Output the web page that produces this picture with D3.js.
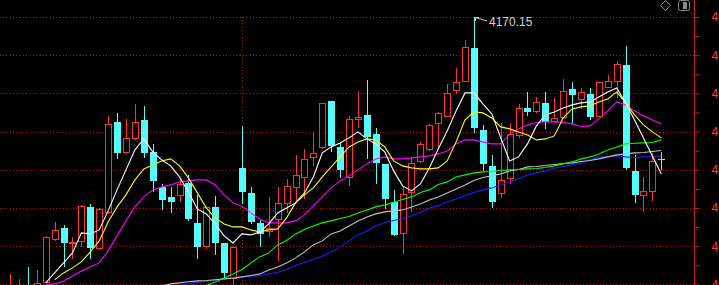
<!DOCTYPE html>
<html>
<head>
<meta charset="utf-8">
<script src="https://cdn.jsdelivr.net/npm/d3@7"></script>
<style>
html, body { margin: 0; padding: 0; background: #000; overflow: hidden; }
svg { display: block; }
</style>
</head>
<body>
<div id="chart"></div>
<script>
// daily candles, oldest first
var opens = [
    4028.7, 4028.7, 4035.2, 4031.2, 4037.8, 4059.3, 4064.7, 4057.0, 4058.3, 4075.2,
    4054.5, 4072.7, 4117.7, 4102.5, 4109.5, 4118.7, 4102.7, 4085.2, 4080.2, 4081.0,
    4087.2, 4067.2, 4055.8, 4075.2, 4057.2, 4039.5, 4094.7, 4082.2, 4067.0, 4063.2,
    4068.9, 4077.3, 4085.0, 4090.3, 4100.0, 4105.0, 4128.2, 4105.3, 4090.3, 4119.2,
    4121.2, 4111.7, 4096.7, 4077.5, 4062.0, 4082.8, 4098.3, 4104.0, 4117.0, 4120.8,
    4133.7, 4138.4, 4154.5, 4113.5, 4095.7, 4081.9, 4089.4, 4111.2, 4124.5, 4123.3,
    4127.3, 4118.3, 4120.3, 4134.0, 4129.2, 4131.7, 4120.8, 4135.3, 4138.3, 4146.2,
    4093.2, 4081.3, 4083.3, 4099.2
];
var highs = [
    4041.8, 4039.2, 4045.3, 4043.7, 4060.8, 4067.7, 4066.2, 4060.3, 4076.2, 4076.7,
    4074.4, 4120.7, 4122.2, 4119.0, 4126.5, 4125.8, 4106.7, 4086.5, 4085.0, 4089.0,
    4091.0, 4081.0, 4075.2, 4080.7, 4057.3, 4055.3, 4115.7, 4085.2, 4068.7, 4080.2,
    4085.0, 4089.0, 4101.2, 4104.0, 4112.5, 4127.2, 4128.3, 4107.3, 4120.8, 4133.3,
    4138.7, 4114.7, 4096.8, 4083.7, 4085.3, 4099.5, 4107.8, 4116.7, 4122.8, 4136.7,
    4144.5, 4158.7, 4170.15, 4116.2, 4101.2, 4117.2, 4117.0, 4126.7, 4132.8, 4130.3,
    4132.8, 4129.5, 4139.2, 4137.8, 4134.5, 4134.5, 4137.7, 4141.2, 4148.2, 4155.7,
    4101.2, 4090.3, 4102.0, 4102.7
];
var lows = [
    4026.7, 4026.2, 4027.7, 4029.7, 4037.5, 4058.8, 4045.8, 4049.8, 4055.7, 4049.5,
    4054.3, 4072.2, 4099.8, 4102.3, 4109.3, 4100.3, 4083.2, 4074.0, 4072.5, 4078.3,
    4068.7, 4049.5, 4054.5, 4051.7, 4040.3, 4036.2, 4077.3, 4067.0, 4055.7, 4060.7,
    4048.4, 4072.8, 4077.5, 4079.5, 4096.2, 4104.8, 4103.3, 4090.3, 4086.2, 4115.3,
    4099.8, 4087.0, 4074.5, 4061.1, 4052.3, 4073.3, 4097.8, 4103.9, 4105.3, 4120.6,
    4132.0, 4138.2, 4112.5, 4093.7, 4075.3, 4080.3, 4087.0, 4110.3, 4121.2, 4122.8,
    4114.5, 4118.2, 4120.1, 4117.0, 4124.5, 4119.0, 4120.6, 4135.1, 4130.3, 4094.3,
    4077.8, 4073.3, 4078.7, 4094.0
];
var closes = [
    4034.7, 4033.7, 4029.7, 4037.0, 4060.2, 4063.7, 4057.3, 4057.8, 4075.5, 4054.8,
    4074.2, 4116.5, 4102.3, 4109.5, 4117.5, 4102.0, 4088.3, 4078.8, 4077.7, 4086.7,
    4069.3, 4055.3, 4075.0, 4057.3, 4042.3, 4055.2, 4082.4, 4067.8, 4061.7, 4064.7,
    4077.0, 4085.8, 4091.3, 4099.2, 4102.0, 4127.0, 4105.8, 4093.7, 4119.2, 4120.2,
    4110.3, 4097.3, 4079.3, 4061.3, 4081.5, 4097.0, 4106.5, 4116.0, 4122.0, 4132.0,
    4137.8, 4155.0, 4114.5, 4096.8, 4077.7, 4088.7, 4111.5, 4124.5, 4122.8, 4127.5,
    4117.8, 4119.5, 4133.2, 4131.2, 4132.5, 4120.3, 4137.5, 4138.2, 4146.5, 4094.8,
    4081.3, 4083.0, 4098.2, 4098.7
];

// moving averages, each starting at the candle index given in its *Start
var ma5Start = 4;
var ma5 = [
    4037.2, 4042.2, 4047.2, 4052.2, 4062.2, 4061.7, 4063.7, 4073.2, 4083.7, 4093.7,
    4103.7, 4109.2, 4102.7, 4098.7, 4095.7, 4090.2, 4082.7, 4074.2, 4071.7, 4066.7,
    4060.7, 4057.2, 4061.7, 4061.2, 4062.7, 4066.7, 4072.2, 4074.7, 4077.2, 4082.2,
    4090.2, 4102.2, 4105.2, 4107.2, 4109.7, 4112.7, 4109.2, 4106.7, 4102.7, 4093.2,
    4085.7, 4083.2, 4086.7, 4094.7, 4104.2, 4113.2, 4123.2, 4132.2, 4132.2, 4126.7,
    4121.7, 4109.7, 4098.2, 4100.2, 4106.7, 4115.7, 4121.2, 4122.7, 4124.7, 4126.2,
    4127.2, 4127.7, 4130.2, 4132.7, 4134.7, 4127.2, 4118.7, 4109.7, 4100.7, 4091.7
];
var ma10Start = 5;
var ma10 = [
    4038.7, 4042.2, 4044.7, 4047.7, 4052.7, 4058.2, 4067.7, 4075.2, 4081.2, 4088.7,
    4094.2, 4096.2, 4098.2, 4099.2, 4095.7, 4089.7, 4082.2, 4074.7, 4069.7, 4066.7,
    4065.2, 4065.2, 4063.7, 4062.7, 4063.7, 4064.2, 4069.7, 4077.2, 4081.2, 4084.7,
    4090.2, 4095.2, 4100.2, 4105.2, 4107.7, 4109.2, 4108.7, 4105.2, 4098.2, 4095.7,
    4094.7, 4094.2, 4094.2, 4094.7, 4098.2, 4107.7, 4118.7, 4122.7, 4122.2, 4119.7,
    4115.2, 4114.2, 4112.7, 4111.2, 4108.7, 4109.2, 4110.7, 4119.7, 4124.2, 4125.2,
    4125.7, 4127.7, 4129.2, 4132.7, 4127.2, 4121.2, 4116.2, 4112.7, 4109.7
];
var ma20Start = 4;
var ma20 = [
    4036.2, 4036.7, 4038.2, 4040.7, 4043.2, 4045.2, 4047.2, 4053.2, 4060.7, 4068.2,
    4075.2, 4080.2, 4083.7, 4085.2, 4086.2, 4087.7, 4088.2, 4088.7, 4088.7, 4086.2,
    4081.2, 4077.2, 4075.7, 4072.2, 4069.2, 4067.2, 4067.2, 4067.2, 4068.2, 4071.2,
    4075.7, 4080.2, 4084.7, 4088.2, 4090.7, 4093.7, 4096.7, 4099.2, 4100.2, 4099.2,
    4099.2, 4099.7, 4100.2, 4100.7, 4101.7, 4103.2, 4106.7, 4108.7, 4108.7, 4107.7,
    4106.7, 4106.7, 4111.7, 4114.2, 4116.2, 4117.4, 4117.7, 4117.7, 4117.4, 4116.7,
    4115.4, 4115.7, 4119.2, 4123.2, 4127.7, 4126.2, 4123.2, 4120.7, 4118.7, 4116.7
];
var ma30Start = 21;
var ma30 = [
    4034.2, 4035.9, 4037.7, 4039.7, 4041.7, 4043.9, 4047.2, 4050.2, 4052.2, 4056.2,
    4058.4, 4061.7, 4063.9, 4065.7, 4067.2, 4068.2, 4069.4, 4070.4, 4072.2, 4073.7,
    4075.2, 4076.2, 4077.4, 4078.9, 4080.2, 4082.4, 4083.7, 4086.4, 4087.7, 4090.2,
    4091.2, 4092.2, 4092.7, 4092.9, 4093.4, 4093.7, 4093.9, 4094.2, 4094.4, 4094.9,
    4095.7, 4096.7, 4097.7, 4099.2, 4100.2, 4101.7, 4103.7, 4105.2, 4106.7, 4107.0,
    4107.2, 4107.4, 4108.7
];
var ma60Start = 17;
var ma60 = [
    4035.7, 4036.7, 4037.2, 4037.8, 4038.2, 4038.4, 4038.8, 4039.2, 4039.5, 4040.2,
    4040.9, 4041.7, 4043.7, 4045.2, 4047.2, 4049.7, 4052.7, 4056.2, 4058.2, 4061.7,
    4063.2, 4065.7, 4068.2, 4070.2, 4071.7, 4072.7, 4073.2, 4073.7, 4075.2, 4076.7,
    4078.7, 4080.2, 4082.2, 4084.2, 4086.2, 4088.4, 4089.9, 4090.7, 4091.7, 4093.2,
    4093.9, 4095.2, 4095.4, 4095.9, 4096.4, 4096.9, 4097.2, 4097.9, 4098.4, 4099.2,
    4100.2, 4101.2, 4101.7, 4102.2, 4102.4, 4102.9, 4103.4
];
var ma120Start = 19;
var ma120 = [
    4035.9, 4036.7, 4037.7, 4037.9, 4038.7, 4039.2, 4039.9, 4040.3, 4040.5, 4040.9,
    4041.7, 4042.4, 4043.9, 4045.9, 4047.4, 4048.9, 4050.7, 4052.7, 4055.2, 4058.2,
    4061.2, 4063.2, 4065.7, 4067.4, 4068.4, 4069.4, 4070.7, 4072.4, 4074.7, 4075.7,
    4077.7, 4079.2, 4080.9, 4082.4, 4083.7, 4084.7, 4086.2, 4087.7, 4089.2, 4091.2,
    4092.2, 4093.2, 4094.4, 4095.4, 4096.2, 4097.2, 4098.7, 4100.2, 4100.4, 4100.7,
    4100.2, 4099.9, 4100.2, 4100.4, 4100.7
];

// price axis: labelled grid levels and the extra half-step ticks
var gridValues = [4170.15, 4151.05, 4131.95, 4112.85, 4093.75, 4074.65, 4055.55, 4036.45];
var halfTicks = [4160.60, 4141.50, 4122.40, 4103.30, 4084.20, 4065.10, 4046.00];

// first candle of the new period (dotted divider)
var dividerIndex = 26;

var W = 719, H = 285;
var axisX = 694;

var svg = d3.select("#chart").append("svg")
    .attr("width", W)
    .attr("height", H);

svg.append("rect").attr("width", W).attr("height", H).attr("fill", "#000");

var idx = closes.map(function (d, i) { return i; });

var x = d3.scalePoint()
    .domain(idx)
    .range([10, 661.3]);

var y = d3.scaleLinear()
    .domain([d3.min(gridValues), d3.max(gridValues)])
    .range([284.4, 17]);

function cx(i) { return Math.round(x(i)); }

// grid
svg.append("g")
    .selectAll("line")
    .data(gridValues)
    .enter().append("line")
    .attr("x1", 0)
    .attr("x2", axisX)
    .attr("y1", function (d) { return Math.round(y(d)) + 0.5; })
    .attr("y2", function (d) { return Math.round(y(d)) + 0.5; })
    .attr("stroke", "#b01818")
    .attr("stroke-dasharray", "1,2,1,2,1,3")
    .attr("shape-rendering", "crispEdges");

svg.append("line")
    .attr("x1", cx(dividerIndex) + 0.5)
    .attr("x2", cx(dividerIndex) + 0.5)
    .attr("y1", Math.round(y(d3.max(gridValues))))
    .attr("y2", H)
    .attr("stroke", "#b01818")
    .attr("stroke-dasharray", "1,2,1,2,1,3")
    .attr("shape-rendering", "crispEdges");

// candles
var RED = "#ff3232", CYAN = "#54fcfc";
var candles = idx.map(function (i) {
    return { i: i, o: opens[i], h: highs[i], l: lows[i], c: closes[i] };
});

var cg = svg.append("g").selectAll("g")
    .data(candles)
    .enter().append("g");

cg.append("line")
    .attr("x1", function (d) { return cx(d.i) + 0.5; })
    .attr("x2", function (d) { return cx(d.i) + 0.5; })
    .attr("y1", function (d) { return Math.round(y(d.h)); })
    .attr("y2", function (d) { return Math.round(y(d.l)) + 1; })
    .attr("stroke", function (d) { return d.c >= d.o ? RED : CYAN; })
    .attr("shape-rendering", "crispEdges");

cg.filter(function (d) { return d.c >= d.o; })
    .append("rect")
    .attr("x", function (d) { return cx(d.i) - 2.5; })
    .attr("y", function (d) { return Math.round(y(d.c)) + 0.5; })
    .attr("width", 6)
    .attr("height", function (d) { return Math.max(1, Math.round(y(d.o)) - Math.round(y(d.c))); })
    .attr("fill", "#000")
    .attr("stroke", RED)
    .attr("shape-rendering", "crispEdges");

cg.filter(function (d) { return d.c < d.o; })
    .append("rect")
    .attr("x", function (d) { return cx(d.i) - 3; })
    .attr("y", function (d) { return Math.round(y(d.o)); })
    .attr("width", 7)
    .attr("height", function (d) { return Math.max(1, Math.round(y(d.c)) - Math.round(y(d.o))); })
    .attr("fill", CYAN)
    .attr("shape-rendering", "crispEdges");

// moving averages
var maLines = [
    { start: ma120Start, values: ma120, color: "#1e1eff" },
    { start: ma60Start, values: ma60, color: "#c0c0c0" },
    { start: ma30Start, values: ma30, color: "#00ff00" },
    { start: ma20Start, values: ma20, color: "#ff00ff" },
    { start: ma10Start, values: ma10, color: "#ffff00" },
    { start: ma5Start, values: ma5, color: "#ffffff" }
];

var line = d3.line()
    .x(function (d) { return x(d[0]); })
    .y(function (d) { return y(d[1]); });

svg.append("g").selectAll("path")
    .data(maLines)
    .enter().append("path")
    .attr("d", function (m) {
        return line(m.values.map(function (v, k) { return [m.start + k, v]; }));
    })
    .attr("fill", "none")
    .attr("stroke", function (m) { return m.color; })
    .attr("stroke-width", 1.1);

// highest price marker
var hiIdx = d3.maxIndex(highs);
var hx = cx(hiIdx) + 1, hy = Math.round(y(highs[hiIdx]));
svg.append("path")
    .attr("d", "M" + (hx + 0.5) + "," + (hy + 4) + "V" + (hy + 0.5) + "H" + (hx + 4) +
        "M" + (hx + 0.5) + "," + (hy + 0.5) + "L" + (hx + 12) + "," + (hy + 4))
    .attr("fill", "none")
    .attr("stroke", "#d0d0d0")
    .attr("stroke-width", 1);

svg.append("text")
    .attr("x", hx + 14)
    .attr("y", hy + 9)
    .attr("fill", "#d0d0d0")
    .attr("font-family", "'Liberation Sans', Arial, sans-serif")
    .attr("font-size", "12px")
    .text(d3.format(".2f")(highs[hiIdx]));

// right price axis
var yAxis = d3.axisRight(y)
    .tickValues(gridValues.concat(halfTicks))
    .tickSize(5)
    .tickSizeOuter(0)
    .tickPadding(12)
    .tickFormat(function (d) {
        return gridValues.indexOf(d) >= 0 ? d3.format(".2f")(d) : "";
    });

var ag = svg.append("g")
    .attr("transform", "translate(" + (axisX + 0.5) + ",0)")
    .call(yAxis);

ag.select(".domain").remove();
ag.selectAll(".tick line").attr("stroke", "#c82020");
ag.selectAll(".tick text")
    .attr("fill", "#ff3a3a")
    .attr("font-family", "'Liberation Sans', Arial, sans-serif")
    .attr("font-size", "12px");

svg.append("line")
    .attr("x1", axisX + 0.5)
    .attr("x2", axisX + 0.5)
    .attr("y1", 0)
    .attr("y2", H)
    .attr("stroke", "#c82020");

// toolbar icons at the top right
svg.append("path")
    .attr("d", "M665.5,0.5 L670.5,5.5 L665.5,10.5 L660.5,5.5 Z")
    .attr("fill", "none")
    .attr("stroke", "#8a8a8a");

svg.append("rect")
    .attr("x", 678.5).attr("y", 0.5)
    .attr("width", 11).attr("height", 10)
    .attr("rx", 2)
    .attr("fill", "none")
    .attr("stroke", "#8a8a8a");

svg.append("rect")
    .attr("x", 683).attr("y", 2)
    .attr("width", 4).attr("height", 7)
    .attr("fill", "#8a8a8a");
</script>
</body>
</html>
